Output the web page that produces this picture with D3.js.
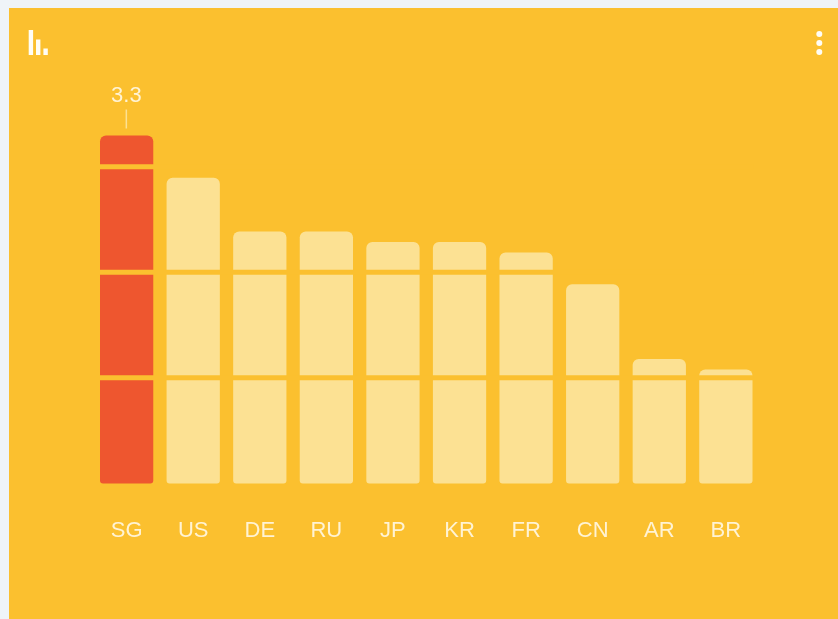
<!DOCTYPE html>
<html>
<head>
<meta charset="utf-8">
<script src="https://cdn.jsdelivr.net/npm/d3@7"></script>
<style>
  html, body { margin: 0; padding: 0; background: #eff4f8; overflow: hidden; }
  text { font-family: "Liberation Sans", Arial, sans-serif; }
  .marks { filter: blur(0.45px); }
</style>
</head>
<body>
<div id="chart"></div>
<script>
var countries = ["SG", "US", "DE", "RU", "JP", "KR", "FR", "CN", "AR", "BR"];
var values = [3.3, 2.9, 2.39, 2.39, 2.29, 2.29, 2.19, 1.89, 1.18, 1.08];
var gridValues = [1, 2, 3];
var highlighted = "SG";

var svgWidth = 838, svgHeight = 619;
var yellow = "#fbc02f", pale = "#fce193", red = "#ee562f", textColor = "#fff3d4";

var svg = d3.select("#chart").append("svg")
    .attr("width", svgWidth)
    .attr("height", svgHeight)
    .style("display", "block");

// card, runs off the right and bottom edge of the window
svg.append("rect")
    .attr("x", 9)
    .attr("y", 8)
    .attr("width", svgWidth - 9)
    .attr("height", svgHeight - 8)
    .attr("fill", yellow);

var marks = svg.append("g").attr("class", "marks");

var x = d3.scaleBand()
    .domain(countries)
    .range([100, 752.5])
    .paddingInner(0.2);

var y = d3.scaleLinear()
    .domain([0, 3.3])
    .range([483.5, 135.5]);

// bar with big top corners and small bottom ones
function barPath(left, top, w, bottom) {
    var rt = Math.min(6, (bottom - top) / 2), rb = 3;
    var p = d3.path();
    p.moveTo(left, top + rt);
    p.arcTo(left, top, left + rt, top, rt);
    p.lineTo(left + w - rt, top);
    p.arcTo(left + w, top, left + w, top + rt, rt);
    p.lineTo(left + w, bottom - rb);
    p.arcTo(left + w, bottom, left + w - rb, bottom, rb);
    p.lineTo(left + rb, bottom);
    p.arcTo(left, bottom, left, bottom - rb, rb);
    p.closePath();
    return p.toString();
}

marks.append("g").selectAll("path")
    .data(countries)
    .enter()
    .append("path")
    .attr("d", function(d, i) {
        return barPath(x(d), y(values[i]), x.bandwidth(), y(0));
    })
    .attr("fill", function(d) { return d === highlighted ? red : pale; });

// grid lines are drawn in the card colour over the bars
marks.append("g").selectAll("line")
    .data(gridValues)
    .enter()
    .append("line")
    .attr("x1", x.range()[0] - 1)
    .attr("x2", x.range()[1] + 1)
    .attr("y1", function(d) { return y(d) - 0.3; })
    .attr("y2", function(d) { return y(d) - 0.3; })
    .attr("stroke", yellow)
    .attr("stroke-width", 5);

var xAxis = marks.append("g")
    .attr("transform", "translate(0," + y(0) + ")")
    .call(d3.axisBottom(x).tickSize(0).tickPadding(38).offset(0));
xAxis.select(".domain").remove();
xAxis.selectAll("text")
    .attr("font-size", 22)
    .attr("font-family", "'Liberation Sans', Arial, sans-serif")
    .attr("fill", textColor);

// value label on the highlighted bar
var hi = countries.indexOf(highlighted);
var hiX = x(highlighted) + x.bandwidth() / 2 - 0.3;
marks.append("line")
    .attr("x1", hiX)
    .attr("x2", hiX)
    .attr("y1", y(values[hi]) - 26)
    .attr("y2", y(values[hi]) - 7)
    .attr("stroke", pale)
    .attr("stroke-width", 1.5);
marks.append("text")
    .attr("x", hiX)
    .attr("y", y(values[hi]) - 33.5)
    .attr("text-anchor", "middle")
    .attr("font-size", 22)
    .attr("fill", textColor)
    .text(values[hi].toFixed(1));

// chart icon, top left
var icon = marks.append("g").attr("fill", "#fffdf5");
icon.append("rect").attr("x", 28.7).attr("y", 30).attr("width", 4.4).attr("height", 25);
icon.append("rect").attr("x", 36).attr("y", 39.5).attr("width", 4.4).attr("height", 15.5);
icon.append("rect").attr("x", 43.4).attr("y", 48.5).attr("width", 4.4).attr("height", 6.5);

// menu dots, top right
marks.append("g").selectAll("circle")
    .data([34, 43, 52])
    .enter()
    .append("circle")
    .attr("cx", 819.3)
    .attr("cy", function(d) { return d; })
    .attr("r", 3)
    .attr("fill", "#fffdf5");
</script>
</body>
</html>
